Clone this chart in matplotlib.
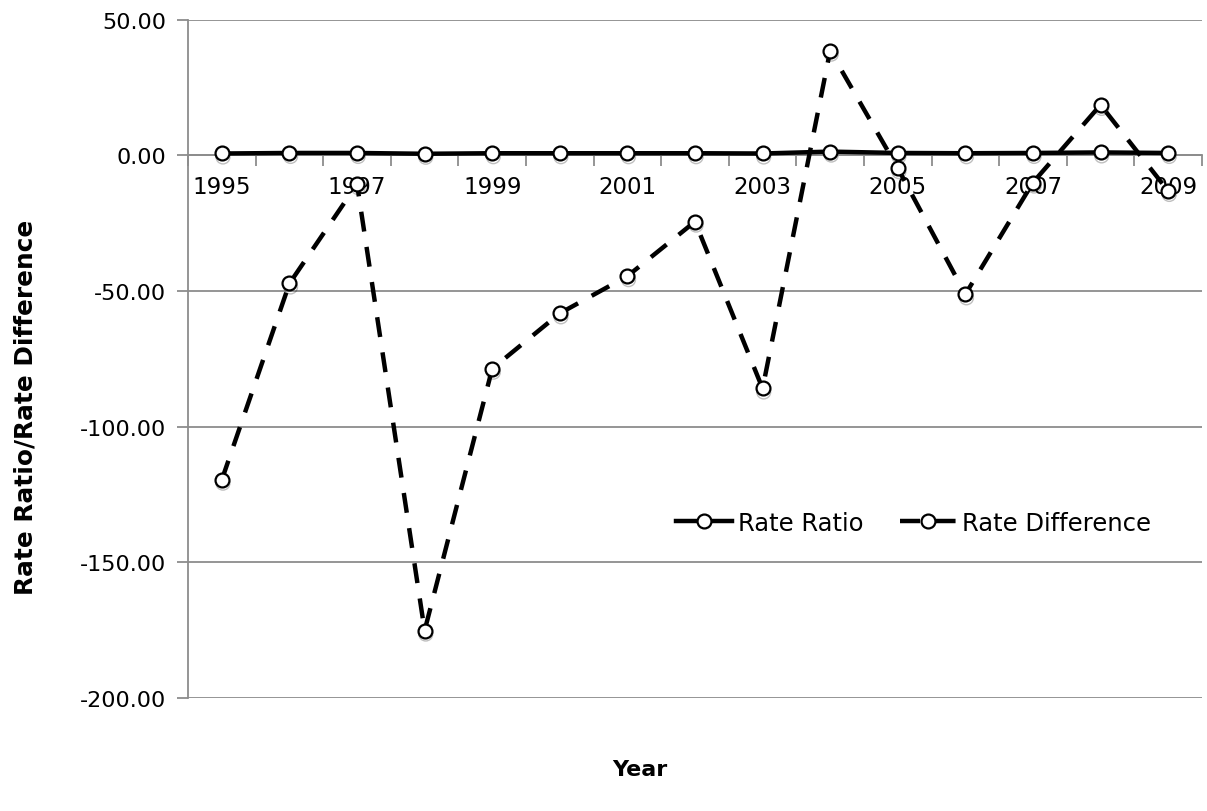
import numpy as np
import matplotlib
matplotlib.use('Agg')
import matplotlib.pyplot as plt
import matplotlib.patheffects as pe
from matplotlib.ticker import FixedLocator, FuncFormatter

years = list(range(1995, 2010))
rate_ratio = [0.7, 0.9, 0.9, 0.6, 0.8, 0.8, 0.8, 0.8, 0.7, 1.4, 0.9, 0.8, 0.9, 1.1, 0.9]
rate_diff = [-119.5, -47.2, -10.6, -175.1, -78.6, -58.2, -44.5, -24.4,
             -85.9, 38.6, -4.7, -51.2, -10.0, 18.6, -13.1]
y_ticks = [50, 0, -50, -100, -150, -200]

plt.rcParams['font.family'] = ['DejaVu Sans']

fig = plt.figure(figsize=(12.07, 8.12), dpi=100)
ax = fig.add_axes([0.1558, 0.139, 0.840, 0.8355])

x = np.arange(len(years))

# soft drop shadow under the markers only
shadow = [pe.SimpleLineShadow(offset=(0.8, -2.5), alpha=0.25, shadow_color='k')]
for vals in (rate_ratio, rate_diff):
    ax.plot(x, vals, ls='none', marker='o', ms=10, mfc='k', mec='k',
            path_effects=shadow, zorder=2.5)

ax.plot(x, rate_ratio, color='black', lw=3.2, marker='o', ms=10,
        mfc='white', mec='black', mew=1.6, label='Rate Ratio', zorder=3)
ax.plot(x, rate_diff, color='black', lw=3.2, ls=(0, (4.5, 3.5)), marker='o', ms=10,
        mfc='white', mec='black', mew=1.6, label='Rate Difference', zorder=4)

ax.set_xlim(-0.5, len(years) - 0.5)
ax.set_ylim(-200, 50)

# y axis
ax.yaxis.set_major_locator(FixedLocator(y_ticks))
ax.yaxis.set_major_formatter(FuncFormatter(lambda v, p: '%.2f' % v))
ax.grid(axis='y', color='#8c8c8c', lw=1.3)
ax.set_axisbelow(True)
ax.tick_params(axis='y', direction='out', length=8, width=1.3, color='#8c8c8c',
               labelsize=16, pad=8)

# x axis sits on zero; ticks at category edges, labels every other year
ax.spines['bottom'].set_position(('data', 0))
ax.spines['bottom'].set_color('#8c8c8c')
ax.spines['bottom'].set_linewidth(1.3)
ax.spines['left'].set_color('#8c8c8c')
ax.spines['left'].set_linewidth(1.3)
ax.spines['top'].set_visible(False)
ax.spines['right'].set_visible(False)
ax.xaxis.set_major_locator(FixedLocator(np.arange(-0.5, len(years), 1.0)))
ax.xaxis.set_major_formatter(FuncFormatter(lambda v, p: ''))
ax.tick_params(axis='x', which='major', direction='out', length=8, width=1.3,
               color='#8c8c8c')
ax.xaxis.set_minor_locator(FixedLocator(x[::2]))
ax.xaxis.set_minor_formatter(FuncFormatter(lambda v, p: str(years[int(round(v))])))
ax.tick_params(axis='x', which='minor', length=0, labelsize=16.5, pad=14)

ax.set_ylabel('Rate Ratio/Rate Difference', fontsize=17.8, fontweight='bold')
ax.yaxis.set_label_coords(-0.148, 0.43)
fig.text(0.53, 0.052, 'Year', ha='center', va='center', fontsize=16, fontweight='bold')

ax.legend(loc='center', bbox_to_anchor=(0.757, 0.355), bbox_transform=fig.transFigure,
          ncol=2, frameon=False, fontsize=17.5, handlelength=2.3, handletextpad=0.25,
          columnspacing=1.5)

fig.savefig('out.png', dpi=100)
